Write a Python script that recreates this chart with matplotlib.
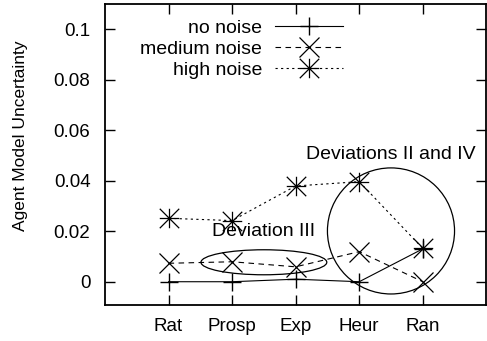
import matplotlib.pyplot as plt
from matplotlib.path import Path
from matplotlib.patches import Ellipse

plt.rcParams['font.family'] = ['Liberation Sans', 'DejaVu Sans']

# data
strategies = ["Rat", "Prosp", "Exp", "Heur", "Ran"]
x_pos = [1, 2, 3, 4, 5]
no_noise = [0.0, 0.0, 0.001, 0.0, 0.013]
medium_noise = [0.0073, 0.0079, 0.0059, 0.0119, 0.0]
high_noise = [0.0251, 0.0242, 0.0379, 0.0396, 0.0132]

y_ticks = [0, 0.02, 0.04, 0.06, 0.08, 0.1]
y_tick_labels = ["0", "0.02", "0.04", "0.06", "0.08", "0.1"]

# gnuplot-style star: plus and cross combined
star = Path([(-1, 0), (1, 0), (0, -1), (0, 1), (-1, -1), (1, 1), (-1, 1), (1, -1)],
            [Path.MOVETO, Path.LINETO] * 4)

fig = plt.figure(figsize=(4.87, 3.41), dpi=100)
ax = fig.add_axes([0.2156, 0.1064, 0.783, 0.8817])

ax.plot(x_pos, no_noise, color="black", lw=0.8, marker="+", ms=13, mew=1.0,
        label="no noise")
ax.plot(x_pos, medium_noise, color="black", lw=0.8, ls=(0, (5, 4)), marker="x",
        ms=14, mew=0.9, label="medium noise")
ax.plot(x_pos, high_noise, color="black", lw=0.8, ls=(0, (2, 3)), marker=star,
        ms=14, mew=0.9, label="high noise")

# annotations
ax.add_patch(Ellipse((2.5, 0.0077), 1.98, 0.0099, fill=False, ec="black", lw=0.9))
ax.add_patch(Ellipse((4.5, 0.0201), 2.0, 0.0499, fill=False, ec="black", lw=0.9))
ax.text(2.49, 0.0200, "Deviation III", ha="center", va="center", fontsize=14)
ax.text(4.49, 0.0502, "Deviations II and IV", ha="center", va="center", fontsize=14)

ax.set_xlim(0, 6)
ax.set_ylim(-0.0091, 0.1099)
ax.set_xticks(x_pos)
ax.set_xticklabels(strategies, fontsize=13.5)
ax.set_yticks(y_ticks)
ax.set_yticklabels(y_tick_labels, fontsize=13.5)
ax.tick_params(direction="in", length=7, width=1, top=True, right=True)
ax.tick_params(axis="x", pad=9.5)
ax.tick_params(axis="y", pad=10.5)
for s in ax.spines.values():
    s.set_linewidth(1.3)

ax.set_ylabel("Agent Model Uncertainty", fontsize=12.5)
ax.yaxis.set_label_coords(-0.202, 0.561)

leg = ax.legend(loc="upper right", bbox_to_anchor=(0.625, 0.95), frameon=False,
                markerfirst=False, fontsize=14, handlelength=3.5,
                handletextpad=0.67, labelspacing=0.17, borderpad=0,
                borderaxespad=0)

fig.savefig("out.png", dpi=100)
